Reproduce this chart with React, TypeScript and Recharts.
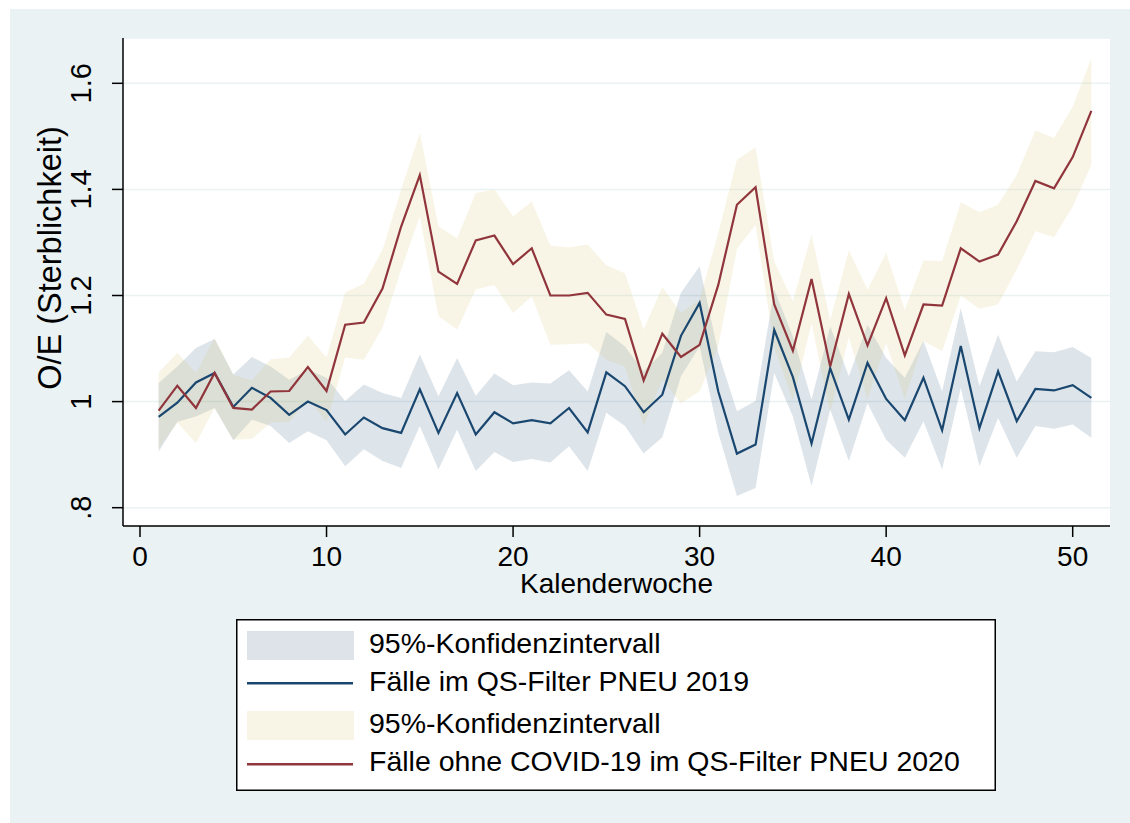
import React from 'react';
import { ComposedChart, Area, Line, XAxis, YAxis, CartesianGrid, Legend } from 'recharts';

const weeks = [1, 2, 3, 4, 5, 6, 7, 8, 9, 10, 11, 12, 13, 14, 15, 16, 17, 18, 19, 20, 21, 22, 23, 24, 25, 26, 27, 28, 29, 30, 31, 32, 33, 34, 35, 36, 37, 38, 39, 40, 41, 42, 43, 44, 45, 46, 47, 48, 49, 50, 51];

const oe2019 = [0.971, 0.998, 1.036, 1.054, 0.990, 1.026, 1.007, 0.975, 1.000, 0.984, 0.938, 0.970, 0.950, 0.941, 1.023, 0.941, 1.016, 0.938, 0.980, 0.959, 0.965, 0.959, 0.988, 0.942, 1.055, 1.029, 0.980, 1.013, 1.124, 1.186, 1.019, 0.902, 0.919, 1.135, 1.046, 0.921, 1.063, 0.966, 1.073, 1.005, 0.965, 1.045, 0.946, 1.105, 0.950, 1.057, 0.963, 1.024, 1.021, 1.031, 1.007];
const lo2019 = [0.906, 0.962, 0.972, 0.988, 0.927, 0.966, 0.954, 0.922, 0.944, 0.927, 0.878, 0.910, 0.888, 0.875, 0.954, 0.872, 0.947, 0.869, 0.905, 0.886, 0.892, 0.885, 0.916, 0.869, 0.979, 0.954, 0.902, 0.933, 1.048, 1.104, 0.941, 0.822, 0.837, 1.054, 0.972, 0.841, 0.985, 0.888, 0.997, 0.928, 0.894, 0.963, 0.872, 1.026, 0.878, 0.969, 0.894, 0.954, 0.949, 0.957, 0.932];
const hi2019 = [1.035, 1.066, 1.101, 1.118, 1.051, 1.084, 1.066, 1.041, 1.060, 1.045, 1.001, 1.032, 1.016, 1.007, 1.089, 1.010, 1.082, 1.011, 1.053, 1.031, 1.036, 1.034, 1.059, 1.019, 1.131, 1.104, 1.057, 1.092, 1.205, 1.255, 1.092, 0.982, 1.001, 1.211, 1.123, 1.004, 1.142, 1.048, 1.145, 1.082, 1.045, 1.114, 1.019, 1.176, 1.029, 1.126, 1.038, 1.095, 1.093, 1.103, 1.082];

const oe2020 = [0.983, 1.030, 0.988, 1.054, 0.988, 0.985, 1.019, 1.020, 1.065, 1.020, 1.145, 1.149, 1.213, 1.330, 1.427, 1.245, 1.222, 1.304, 1.313, 1.259, 1.289, 1.200, 1.200, 1.205, 1.164, 1.156, 1.040, 1.128, 1.084, 1.107, 1.220, 1.371, 1.404, 1.183, 1.096, 1.231, 1.066, 1.203, 1.106, 1.195, 1.087, 1.183, 1.181, 1.289, 1.264, 1.277, 1.340, 1.416, 1.402, 1.461, 1.548];
const lo2020 = [0.912, 0.960, 0.922, 0.988, 0.928, 0.930, 0.960, 0.962, 1.005, 0.962, 1.083, 1.079, 1.139, 1.249, 1.349, 1.161, 1.136, 1.212, 1.220, 1.167, 1.198, 1.107, 1.108, 1.110, 1.079, 1.066, 0.954, 1.041, 0.997, 1.019, 1.104, 1.288, 1.333, 1.102, 1.003, 1.147, 0.980, 1.121, 1.005, 1.110, 1.005, 1.114, 1.095, 1.200, 1.175, 1.183, 1.249, 1.321, 1.310, 1.368, 1.446];
const hi2020 = [1.055, 1.092, 1.054, 1.120, 1.050, 1.040, 1.080, 1.083, 1.124, 1.083, 1.206, 1.222, 1.286, 1.400, 1.507, 1.330, 1.308, 1.393, 1.400, 1.349, 1.377, 1.294, 1.291, 1.296, 1.257, 1.242, 1.136, 1.216, 1.167, 1.192, 1.318, 1.456, 1.479, 1.264, 1.189, 1.315, 1.154, 1.285, 1.211, 1.280, 1.173, 1.266, 1.265, 1.376, 1.357, 1.371, 1.427, 1.511, 1.497, 1.556, 1.647];

const xTicks = [0, 10, 20, 30, 40, 50];
const yTicks = [0.8, 1, 1.2, 1.4, 1.6];
const yTickLabels = ['.8', '1', '1.2', '1.4', '1.6'];
const legendLabels = [
  '95%-Konfidenzintervall',
  'Fälle im QS-Filter PNEU 2019',
  '95%-Konfidenzintervall',
  'Fälle ohne COVID-19 im QS-Filter PNEU 2020',
];
const xTitle = 'Kalenderwoche';
const yTitle = 'O/E (Sterblichkeit)';

const FONT = '"Liberation Sans", Arial, Helvetica, sans-serif';
const BLUE = '#1a476f';
const RED = '#90353b';
const BEIGE = '#dccd82';
const BLUE_SOLID = '#dde3e9';
const BEIGE_SOLID = '#f8f5e6';
const BG = '#eaf2f3';

const data = weeks.map((w, i) => ({
  week: w,
  ci2019: [lo2019[i], hi2019[i]],
  oe2019: oe2019[i],
  ci2020: [lo2020[i], hi2020[i]],
  oe2020: oe2020[i],
}));

const YTick = (props: any) => {
  const { y, payload } = props;
  const idx = yTicks.findIndex((t) => Math.abs(t - payload.value) < 1e-9);
  const label = idx >= 0 ? yTickLabels[idx] : String(payload.value);
  return (
    <text x={91.5} y={y} transform={`rotate(-90 91.5 ${y})`} textAnchor="middle" fontSize={29} fontFamily={FONT} fill="#000">
      {label}
    </text>
  );
};

const XTick = (props: any) => {
  const { x, y, payload } = props;
  return (
    <text x={x} y={y + 27} textAnchor="middle" fontSize={28} fontFamily={FONT} fill="#000">
      {payload.value}
    </text>
  );
};

const XTitle = () => (
  <text x={616.5} y={593} textAnchor="middle" fontSize={28} fontFamily={FONT} fill="#000">
    {xTitle}
  </text>
);

const YTitle = () => (
  <text x={61} y={258} transform="rotate(-90 61 258)" textAnchor="middle" fontSize={32.5} fontFamily={FONT} fill="#000">
    {yTitle}
  </text>
);

const LegendBox = () => (
  <svg width={760} height={172} style={{ display: 'block' }}>
    <rect x={0.75} y={0.75} width={758.5} height={170.5} fill="#fff" stroke="#000" strokeWidth={1.5} />
    <rect x={11} y={12} width={107} height={29} fill={BLUE_SOLID} />
    <text x={133} y={33.7} fontSize={28.5} fontFamily={FONT} fill="#000">{legendLabels[0]}</text>
    <line x1={11} x2={117} y1={64.3} y2={64.3} stroke={BLUE} strokeWidth={2.5} />
    <text x={133} y={71.7} fontSize={28.5} fontFamily={FONT} fill="#000">{legendLabels[1]}</text>
    <rect x={11} y={92} width={107} height={29} fill={BEIGE_SOLID} />
    <text x={133} y={113.7} fontSize={28.5} fontFamily={FONT} fill="#000">{legendLabels[2]}</text>
    <line x1={11} x2={117} y1={145.3} y2={145.3} stroke={RED} strokeWidth={2.5} />
    <text x={133} y={151.7} fontSize={28.5} fontFamily={FONT} fill="#000">{legendLabels[3]}</text>
  </svg>
);

export default function App() {
  return (
    <div style={{ position: 'absolute', left: 0, top: 0, width: 1130, height: 823, background: '#fff', overflow: 'hidden' }}>
      <div style={{ position: 'absolute', left: 10, top: 9, width: 1120, height: 814, background: BG }} />
      <div style={{ position: 'absolute', left: 0, top: 0 }}>
        <ComposedChart width={1130} height={823} data={data} margin={{ top: 38, right: 20, bottom: 0, left: 0 }}>
          <CartesianGrid vertical={false} horizontal={true} stroke={BG} strokeWidth={1.5} fill="#fff" />
          <XAxis
            dataKey="week"
            type="number"
            domain={[-0.911, 52.0]}
            ticks={xTicks}
            allowDataOverflow
            height={297}
            tickSize={11}
            tickLine={{ stroke: '#000', strokeWidth: 1.5 }}
            axisLine={{ stroke: '#000', strokeWidth: 1.5 }}
            tick={<XTick />}
            label={<XTitle />}
            interval={0}
          />
          <YAxis
            type="number"
            domain={[0.7655, 1.6854]}
            ticks={yTicks}
            allowDataOverflow
            width={123}
            tickSize={11}
            tickLine={{ stroke: '#000', strokeWidth: 1.5 }}
            axisLine={{ stroke: '#000', strokeWidth: 1.5 }}
            tick={<YTick />}
            label={<YTitle />}
            interval={0}
          />
          <Area dataKey="ci2019" type="linear" stroke="none" fill={BLUE} fillOpacity={0.15} isAnimationActive={false} dot={false} activeDot={false} />
          <Line dataKey="oe2019" type="linear" stroke={BLUE} strokeWidth={2.2} dot={false} activeDot={false} isAnimationActive={false} />
          <Area dataKey="ci2020" type="linear" stroke="none" fill={BEIGE} fillOpacity={0.2} isAnimationActive={false} dot={false} activeDot={false} />
          <Line dataKey="oe2020" type="linear" stroke={RED} strokeWidth={2.2} dot={false} activeDot={false} isAnimationActive={false} />
          <Legend
            layout="horizontal"
            verticalAlign="middle"
            align="center"
            content={<LegendBox />}
            wrapperStyle={{ position: 'absolute', left: 236, top: 619, width: 760, height: 172 }}
          />
        </ComposedChart>
      </div>
    </div>
  );
}
